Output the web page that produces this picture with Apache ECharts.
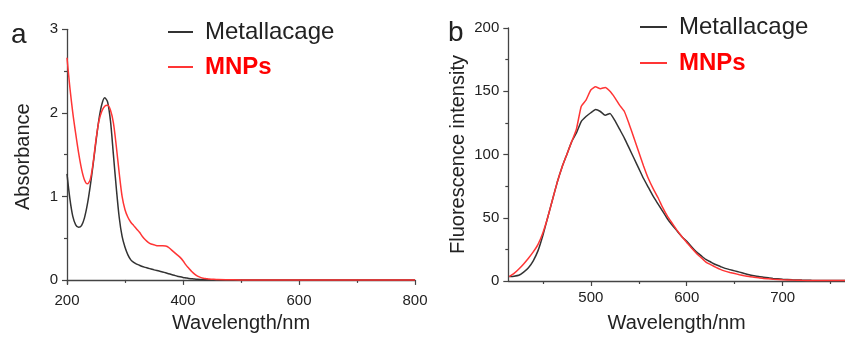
<!DOCTYPE html>
<html>
<head>
<meta charset="utf-8">
<script src="https://cdn.jsdelivr.net/npm/echarts@6/dist/echarts.min.js"></script>
<style>
  html, body { margin: 0; padding: 0; background: #fff; }
  #chart { width: 845px; height: 338px; }
</style>
</head>
<body>
<div id="chart"></div>
<script>
// ---- Data ----
const seriesNames = ['Metallacage', 'MNPs'];

// Panel a: UV-vis absorbance
const aWl = [200,205,210,215,220,225,230,235,240,245,250,255,260,265,270,275,280,285,290,295,
             300,305,310,315,320,325,330,335,340,345,350,355,360,365,370,375,380,385,390,395,
             400,405,410,415,420,425,430,435,440,445,450,460,480,500,600,700,800];
const aMetal = [1.27,0.97,0.76,0.66,0.63,0.65,0.74,0.9,1.12,1.38,1.66,1.92,2.1,2.18,2.13,1.9,1.5,1.1,0.75,0.52,
                0.39,0.3,0.24,0.21,0.19,0.175,0.16,0.15,0.14,0.13,0.12,0.112,0.105,0.095,0.085,0.075,0.065,0.055,0.045,0.037,
                0.03,0.024,0.018,0.014,0.01,0.007,0.005,0.004,0.003,0.002,0.002,0.001,0,0,0,0,0];
const aMNP = [2.66,2.3,2.0,1.75,1.52,1.33,1.2,1.15,1.2,1.4,1.68,1.9,2.02,2.08,2.09,2.03,1.88,1.6,1.28,1.0,
              0.84,0.75,0.69,0.65,0.61,0.57,0.52,0.48,0.45,0.43,0.42,0.41,0.41,0.41,0.405,0.39,0.36,0.33,0.3,0.27,
              0.23,0.18,0.14,0.1,0.07,0.045,0.03,0.02,0.015,0.01,0.008,0.004,0.002,0,0,0,0];
const aYTicks = [0, 1, 2, 3];
const aYMinor = [0.5, 1.5, 2.5];

// Panel b: fluorescence
const bWl = [415,420,425,430,435,440,445,450,455,460,465,470,475,480,485,490,495,500,505,510,
             515,520,525,530,535,540,545,550,555,560,565,570,575,580,585,590,595,600,605,610,
             615,620,625,630,635,640,645,650,655,660,665,670,675,680,685,690,700,710,720,730,
             740,750,765];
const bMetal = [3.5,3.8,4.5,7,10.5,16,24,36,50,64,78,90,100,110,117,126,130,133,135.5,134,
                131,132.5,127,120,113,105,97,89,81,74,67,61,55,49,44,39.5,35,31.5,27,23,
                20,17,15,13,11.5,10,9,8,7,6,5,4.2,3.5,3,2.5,2,1.4,1,0.7,0.5,
                0.4,0.3,0.3];
const bMNP = [3.5,6,9.5,13.5,18,23,29,38,50,64,78,90,100,110,120,138,143,151,153.5,152,
              153,150,145,139,134,124,113,102,91,81,73,66,58,51,45.5,40,35,30.5,26,22,
              18.5,15,13,11,9.2,7.8,6.8,5.9,5,4.2,3.5,3,2.5,2,1.7,1.4,1,0.7,0.5,0.45,
              0.4,0.4,0.4];
const bXTicks = [500, 600, 700];
const bXMinor = [450, 550, 650, 750];

// ---- Chart ----
const FONT = "'Liberation Sans', Arial, sans-serif";
const AX = '#444';
const BLACK = '#333333';
const RED = '#ff3535';

const axisLine = { show: true, lineStyle: { color: AX, width: 1.3 } };
const labelStyle = { color: '#222', fontSize: 15, fontFamily: FONT, margin: 9 };
const nameStyle = { color: '#222', fontSize: 20, fontFamily: FONT };

function pairs(xs, ys) { return xs.map((x, i) => [x, ys[i]]); }

const chart = echarts.init(document.getElementById('chart'), null, { renderer: 'canvas' });
chart.setOption({
  animation: false,
  backgroundColor: '#fff',
  title: [
    { text: 'a', left: 11, top: 21, padding: 0, textStyle: { fontSize: 28, fontWeight: 'normal', color: '#222', fontFamily: FONT } },
    { text: 'b', left: 448, top: 19, padding: 0, textStyle: { fontSize: 28, fontWeight: 'normal', color: '#222', fontFamily: FONT } }
  ],
  legend: [
    {
      left: 168, top: 20, orient: 'vertical', icon: 'rect', itemWidth: 25, itemHeight: 2, itemGap: 11,
      selectedMode: false, padding: 0,
      textStyle: { fontSize: 24, fontFamily: FONT, padding: [0, 0, 0, 7] },
      data: [
        { name: 'Metallacage', textStyle: { color: '#222' } },
        { name: 'MNPs', textStyle: { color: '#ff0000', fontWeight: 'bold' } }
      ]
    },
    {
      left: 640, top: 15, orient: 'vertical', icon: 'rect', itemWidth: 27, itemHeight: 2, itemGap: 12,
      selectedMode: false, padding: 0,
      textStyle: { fontSize: 24, fontFamily: FONT, padding: [0, 0, 0, 7] },
      data: [
        { name: 'Metallacage', textStyle: { color: '#222' } },
        { name: 'MNPs', textStyle: { color: '#ff0000', fontWeight: 'bold' } }
      ]
    }
  ],
  grid: [
    { left: 67, top: 29.3, width: 348, height: 257.4, containLabel: false },
    { left: 508.3, top: 28, width: 336.7, height: 255.3, containLabel: false }
  ],
  xAxis: [
    {
      gridIndex: 0, type: 'value', min: 200, max: 800, interval: 200, position: 'bottom',
      axisLine, splitLine: { show: false },
      axisTick: { show: true, length: 5, lineStyle: { color: AX, width: 1.2 } },
      minorTick: { show: true, splitNumber: 2, length: 3, lineStyle: { color: AX, width: 1.2 } },
      axisLabel: labelStyle,
      name: 'Wavelength/nm', nameLocation: 'middle', nameGap: 28, nameTextStyle: nameStyle
    },
    {
      gridIndex: 1, type: 'value', min: 414, max: 765, position: 'bottom',
      axisLine, splitLine: { show: false },
      axisTick: { show: true, length: 5, customValues: bXTicks, lineStyle: { color: AX, width: 1.2 } },
      axisLabel: Object.assign({ customValues: bXTicks }, labelStyle),
      name: 'Wavelength/nm', nameLocation: 'middle', nameGap: 32, nameTextStyle: nameStyle
    },
    {
      gridIndex: 1, type: 'value', min: 414, max: 765, position: 'bottom',
      axisLine: { show: false }, splitLine: { show: false },
      axisTick: { show: true, length: 3, customValues: bXMinor, lineStyle: { color: AX, width: 1.2 } },
      axisLabel: { show: false }
    }
  ],
  yAxis: [
    {
      gridIndex: 0, type: 'value', min: -0.05, max: 3, position: 'left',
      axisLine, splitLine: { show: false },
      axisTick: { show: true, length: 5, customValues: aYTicks, lineStyle: { color: AX, width: 1.2 } },
      axisLabel: Object.assign({ customValues: aYTicks }, labelStyle),
      name: 'Absorbance', nameLocation: 'middle', nameGap: 34, nameTextStyle: nameStyle
    },
    {
      gridIndex: 0, type: 'value', min: -0.05, max: 3, position: 'left',
      axisLine: { show: false }, splitLine: { show: false },
      axisTick: { show: true, length: 3, customValues: aYMinor, lineStyle: { color: AX, width: 1.2 } },
      axisLabel: { show: false }
    },
    {
      gridIndex: 1, type: 'value', min: 0, max: 200, interval: 50, position: 'left',
      axisLine, splitLine: { show: false },
      axisTick: { show: true, length: 5, lineStyle: { color: AX, width: 1.2 } },
      minorTick: { show: true, splitNumber: 2, length: 3, lineStyle: { color: AX, width: 1.2 } },
      axisLabel: labelStyle,
      name: 'Fluorescence intensity', nameLocation: 'middle', nameGap: 40, nameTextStyle: nameStyle
    }
  ],
  series: [
    {
      name: 'Metallacage', type: 'line', xAxisIndex: 0, yAxisIndex: 0, data: pairs(aWl, aMetal),
      smooth: 0.3, showSymbol: false, itemStyle: { color: BLACK }, lineStyle: { color: BLACK, width: 1.5 }
    },
    {
      name: 'MNPs', type: 'line', xAxisIndex: 0, yAxisIndex: 0, data: pairs(aWl, aMNP),
      smooth: 0.3, showSymbol: false, itemStyle: { color: RED }, lineStyle: { color: RED, width: 1.5 }
    },
    {
      name: 'Metallacage', type: 'line', xAxisIndex: 1, yAxisIndex: 2, data: pairs(bWl, bMetal),
      smooth: 0.15, showSymbol: false, itemStyle: { color: BLACK }, lineStyle: { color: BLACK, width: 1.5 }
    },
    {
      name: 'MNPs', type: 'line', xAxisIndex: 1, yAxisIndex: 2, data: pairs(bWl, bMNP),
      smooth: 0.15, showSymbol: false, itemStyle: { color: RED }, lineStyle: { color: RED, width: 1.5 }
    }
  ]
});
</script>
</body>
</html>
